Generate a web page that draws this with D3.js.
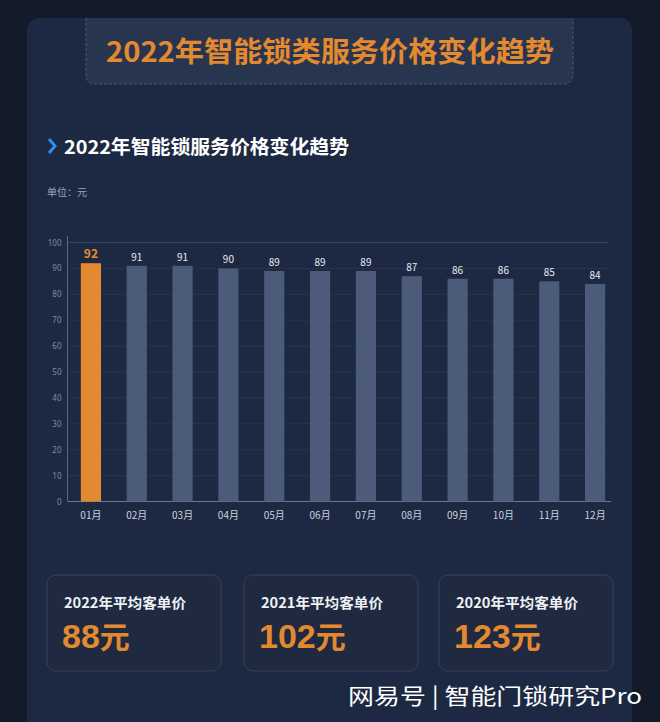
<!DOCTYPE html>
<html><head><meta charset="utf-8">
<script src="https://cdn.jsdelivr.net/npm/d3@7"></script>
<style>
html,body{margin:0;padding:0;background:#131b2b;}
svg{display:block;font-family:"Noto Sans CJK SC","Noto Sans",sans-serif;}
</style></head>
<body>
<svg id="c" width="660" height="722"></svg>
<script>
const months = ["01月","02月","03月","04月","05月","06月","07月","08月","09月","10月","11月","12月"];
const prices = [92,91,91,90,89,89,89,87,86,86,85,84];
const yTicks = [0,10,20,30,40,50,60,70,80,90,100];
const cardLabels = ["2022年平均客单价","2021年平均客单价","2020年平均客单价"];
const cardValues = [88,102,123];
const mainTitle = "2022年智能锁类服务价格变化趋势";
const subTitle = "2022年智能锁服务价格变化趋势";
const unitLabel = "单位：元";
const watermark = "网易号 | 智能门锁研究Pro";

const svg = d3.select("#c");
const orange = "#e3892f";

svg.append("rect").attr("width",660).attr("height",722).attr("fill","#131b2b");
svg.append("rect").attr("x",27).attr("y",18).attr("width",605).attr("height",740).attr("rx",12).attr("fill","#1d2942");

const tb = svg.append("g");
tb.append("path")
  .attr("d","M86,18 L86,74 Q86,84 96,84 L563,84 Q573,84 573,74 L573,18")
  .attr("fill","#28354f").attr("stroke","#4a5872").attr("stroke-width",1).attr("stroke-dasharray","3,2");
tb.append("text").attr("x",330).attr("y",62).attr("text-anchor","middle")
  .attr("font-size",28).attr("font-weight","bold").attr("fill",orange)
  .attr("textLength",448).attr("lengthAdjust","spacingAndGlyphs").text(mainTitle);

svg.append("path").attr("d","M49,139 L55,146 L49,153").attr("fill","none")
  .attr("stroke","#2e8ef0").attr("stroke-width",3);
svg.append("text").attr("x",64).attr("y",154).attr("font-size",19).attr("font-weight","bold")
  .attr("fill","#ffffff").attr("textLength",285).attr("lengthAdjust","spacingAndGlyphs").text(subTitle);
svg.append("text").attr("x",47).attr("y",196).attr("font-size",10).attr("fill","#9aa6b8").text(unitLabel);

const x = d3.scaleBand().domain(months).range([68,618]).paddingInner(0.56).paddingOuter(0.28);
const y = d3.scaleLinear().domain([0,100]).range([501.5,242.5]);

const grid = svg.append("g");
grid.selectAll("line").data(yTicks.filter(d=>d>0)).join("line")
  .attr("x1",68).attr("x2",609).attr("y1",d=>y(d)).attr("y2",d=>y(d))
  .attr("stroke",d=>d===100?"#34435e":"#27354d").attr("stroke-width",1);

const yAxis = svg.append("g").attr("transform","translate(67.5,0)")
  .call(d3.axisLeft(y).tickValues(yTicks).tickSize(0).tickPadding(6));
yAxis.select(".domain").attr("stroke","#5a6882").attr("d","M0,236V501.5");
yAxis.selectAll("text").attr("font-size",8).attr("fill","#7d8aa0").attr("font-family","\"Noto Sans\",sans-serif");

const xAxis = svg.append("g").attr("transform","translate(0,501.5)")
  .call(d3.axisBottom(x).tickSize(0).tickPadding(10));
xAxis.select(".domain").attr("stroke","#6a7892").attr("d","M68,0H611");
xAxis.selectAll("text").attr("font-size",10).attr("fill","#c9d1de").attr("font-family","\"Noto Sans CJK SC\",sans-serif");

svg.append("g").selectAll("rect").data(prices).join("rect")
  .attr("x",(d,i)=>x(months[i])).attr("width",x.bandwidth())
  .attr("y",d=>y(d)).attr("height",d=>y(0)-y(d))
  .attr("fill",(d,i)=>i===0?orange:"#4b5b79");

svg.append("g").selectAll("text").data(prices).join("text")
  .attr("x",(d,i)=>x(months[i])+x.bandwidth()/2).attr("y",d=>y(d)-5)
  .attr("text-anchor","middle").attr("font-size",(d,i)=>i===0?12:10)
  .attr("font-weight",(d,i)=>i===0?"bold":"normal")
  .attr("fill",(d,i)=>i===0?orange:"#e6ebf2").text(d=>d);

const cardX = [47,244,439];
const cg = svg.append("g").selectAll("g").data(cardValues).join("g")
  .attr("transform",(d,i)=>`translate(${cardX[i]},575)`);
cg.append("rect").attr("width",174).attr("height",96).attr("rx",9)
  .attr("fill","#1f2a40").attr("stroke","#34425a").attr("stroke-width",1);
cg.append("text").attr("x",17).attr("y",33).attr("font-size",14).attr("font-weight","bold")
  .attr("fill","#eef1f6").attr("textLength",122).attr("lengthAdjust","spacingAndGlyphs").text((d,i)=>cardLabels[i]);
const vt = cg.append("text").attr("x",15).attr("y",73).attr("font-weight","bold").attr("fill",orange);
vt.append("tspan").attr("font-family","\"Liberation Sans\",Arial,sans-serif").attr("font-size",34).text(d=>d);
vt.append("tspan").attr("font-size",30).text("元");

svg.append("text").attr("x",642).attr("y",704).attr("text-anchor","end")
  .attr("font-size",22).attr("fill","#ffffff").attr("font-family","\"Noto Sans CJK SC\",sans-serif")
  .attr("textLength",294).attr("lengthAdjust","spacingAndGlyphs")
  .text(watermark);
</script>
</body></html>
